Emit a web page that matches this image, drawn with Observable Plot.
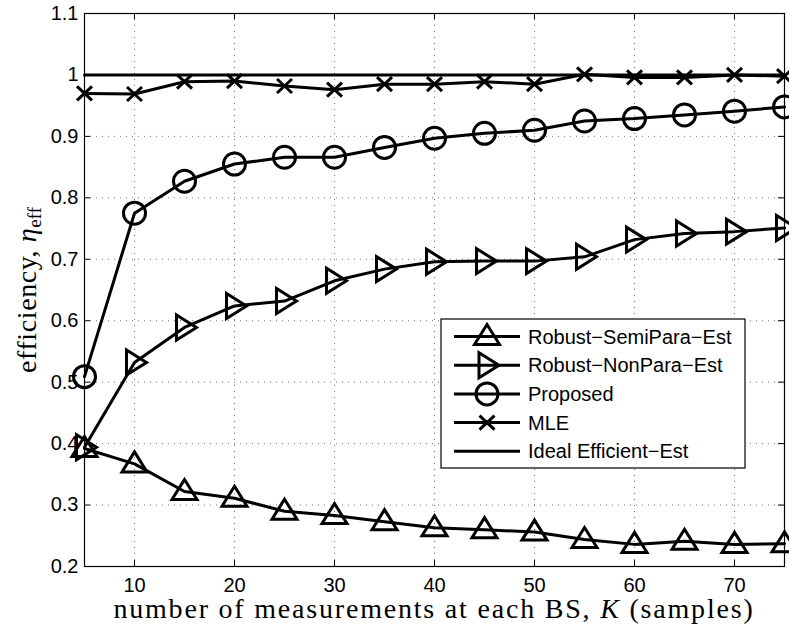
<!DOCTYPE html>
<html>
<head>
<meta charset="utf-8">
<script src="https://cdn.jsdelivr.net/npm/d3@7"></script>
<script src="https://cdn.jsdelivr.net/npm/@observablehq/plot@0.6"></script>
<style>
  html, body { margin: 0; padding: 0; background: #fff; }
  svg { display: block; }
</style>
</head>
<body>
<div id="chart"></div>
<script>
// ---- data ----
const K = [5, 10, 15, 20, 25, 30, 35, 40, 45, 50, 55, 60, 65, 70, 75];
const semiPara = [0.392, 0.367, 0.322, 0.311, 0.290, 0.283, 0.273, 0.263, 0.260, 0.256, 0.244, 0.236, 0.241, 0.236, 0.237];
const nonPara  = [0.394, 0.532, 0.589, 0.624, 0.632, 0.665, 0.684, 0.696, 0.697, 0.697, 0.704, 0.732, 0.742, 0.745, 0.751];
const proposed = [0.509, 0.775, 0.827, 0.855, 0.866, 0.866, 0.882, 0.897, 0.905, 0.910, 0.925, 0.929, 0.935, 0.941, 0.948];
const mle      = [0.970, 0.969, 0.989, 0.990, 0.982, 0.976, 0.985, 0.985, 0.989, 0.985, 1.001, 0.996, 0.996, 1.000, 0.998];
const ideal    = [1, 1, 1, 1, 1, 1, 1, 1, 1, 1, 1, 1, 1, 1, 1];
const seriesNames = ["Robust\u2212SemiPara\u2212Est", "Robust\u2212NonPara\u2212Est", "Proposed", "MLE", "Ideal Efficient\u2212Est"];
const xTicks = [10, 20, 30, 40, 50, 60, 70];
const yTicks = [0.2, 0.3, 0.4, 0.5, 0.6, 0.7, 0.8, 0.9, 1, 1.1];
const xLabel = "number of measurements at each BS, ";
const yLabel = "efficiency, ";

// ---- layout ----
const W = 789, H = 625;
const mL = 84, mR = 5, mT = 13, mB = 59;
const frameW = W - mL - mR, frameH = H - mT - mB;
const tickLen = 6;
const sans = "'Liberation Sans', Arial, Helvetica, sans-serif";
const serif = "'Liberation Serif', 'Times New Roman', serif";

// ---- marker shapes (hollow, MATLAB-like) ----
const triUp = {draw(c) { c.moveTo(0, -12); c.lineTo(12.5, 8); c.lineTo(-12.5, 8); c.closePath(); }};
const triRight = {draw(c) { c.moveTo(12, 0); c.lineTo(-8, -12.5); c.lineTo(-8, 12.5); c.closePath(); }};
const circ = {draw(c) { c.moveTo(11, 0); c.arc(0, 0, 11, 0, 2 * Math.PI); c.closePath(); }};
const cross = {draw(c) { c.moveTo(-7.5, -7); c.lineTo(7.5, 7); c.moveTo(-7.5, 7); c.lineTo(7.5, -7); }};

const series = [
  {name: seriesNames[0], values: semiPara, symbol: triUp},
  {name: seriesNames[1], values: nonPara, symbol: triRight},
  {name: seriesNames[2], values: proposed, symbol: circ},
  {name: seriesNames[3], values: mle, symbol: cross},
  {name: seriesNames[4], values: ideal, symbol: null}
];

const rows = s => K.map((k, i) => ({k, v: s.values[i]}));

const marks = [
  Plot.gridX(xTicks, {stroke: "#000", strokeOpacity: 0.55, strokeDasharray: "1,5"}),
  Plot.gridY(yTicks, {stroke: "#000", strokeOpacity: 0.55, strokeDasharray: "1,5"}),
  // inward ticks on all four sides
  Plot.tickX(xTicks, {x: d => d, insetTop: frameH - tickLen, stroke: "#000"}),
  Plot.tickX(xTicks, {x: d => d, insetBottom: frameH - tickLen, stroke: "#000"}),
  Plot.tickY(yTicks, {y: d => d, insetRight: frameW - tickLen, stroke: "#000"}),
  Plot.tickY(yTicks, {y: d => d, insetLeft: frameW - tickLen, stroke: "#000"}),
  Plot.frame({stroke: "#000", strokeWidth: 1.2}),
  Plot.axisX(xTicks, {tickSize: 0, tickPadding: 11, fontSize: 20, fontFamily: sans, fill: "#000", label: null}),
  Plot.axisY(yTicks, {tickSize: 0, tickPadding: 6, fontSize: 20, fontFamily: sans, fill: "#000", label: null,
    tickFormat: d => d === 1 ? "1" : d.toFixed(1)})
];

for (const s of series) {
  marks.push(Plot.line(rows(s), {x: "k", y: "v", stroke: "#000", strokeWidth: 3, strokeLinejoin: "round"}));
}
for (const s of series) {
  if (s.symbol) {
    marks.push(Plot.dot(rows(s), {x: "k", y: "v", symbol: s.symbol, r: 10, stroke: "#000", fill: "none", strokeWidth: 3}));
  }
}

const svg = Plot.plot({
  width: W,
  height: H,
  marginLeft: mL,
  marginRight: mR,
  marginTop: mT,
  marginBottom: mB,
  style: {background: "#fff", overflow: "visible"},
  x: {domain: [5, 75], axis: null},
  y: {domain: [0.2, 1.1], axis: null},
  marks
});

const root = d3.select(svg);

// ---- axis titles ----
const xt = root.append("text")
  .attr("x", 434).attr("y", 618)
  .attr("text-anchor", "middle")
  .style("font-family", serif).style("font-size", "28px").style("letter-spacing", "1.8px")
  .attr("fill", "#000");
xt.append("tspan").text(xLabel);
xt.append("tspan").style("font-style", "italic").text("K");
xt.append("tspan").text(" (samples)");

const yt = root.append("text")
  .attr("transform", "translate(36,290) rotate(-90)")
  .attr("text-anchor", "middle")
  .style("font-family", serif).style("font-size", "28px").style("letter-spacing", "0.6px")
  .attr("fill", "#000");
yt.append("tspan").text(yLabel);
yt.append("tspan").style("font-style", "italic").text("\u03B7");
yt.append("tspan").attr("dy", "5").style("font-size", "19px").style("letter-spacing", "0px").text("eff");

// ---- legend ----
const lg = root.append("g");
lg.append("rect").attr("x", 441).attr("y", 319).attr("width", 304).attr("height", 149)
  .attr("fill", "#fff").attr("stroke", "#000").attr("stroke-width", 1.2);
series.forEach((s, i) => {
  const cy = 336.5 + i * 28.7;
  lg.append("line").attr("x1", 454).attr("x2", 520).attr("y1", cy).attr("y2", cy)
    .attr("stroke", "#000").attr("stroke-width", 3);
  if (s.symbol) {
    lg.append("path").attr("d", d3.symbol(s.symbol, 100)())
      .attr("transform", `translate(487,${cy})`)
      .attr("fill", "none").attr("stroke", "#000").attr("stroke-width", 3);
  }
  lg.append("text").attr("x", 528).attr("y", cy).attr("dy", "0.35em")
    .attr("text-anchor", "start")
    .style("font-family", sans).style("font-size", "20px").attr("fill", "#000")
    .text(s.name);
});

document.getElementById("chart").appendChild(svg);
</script>
</body>
</html>
